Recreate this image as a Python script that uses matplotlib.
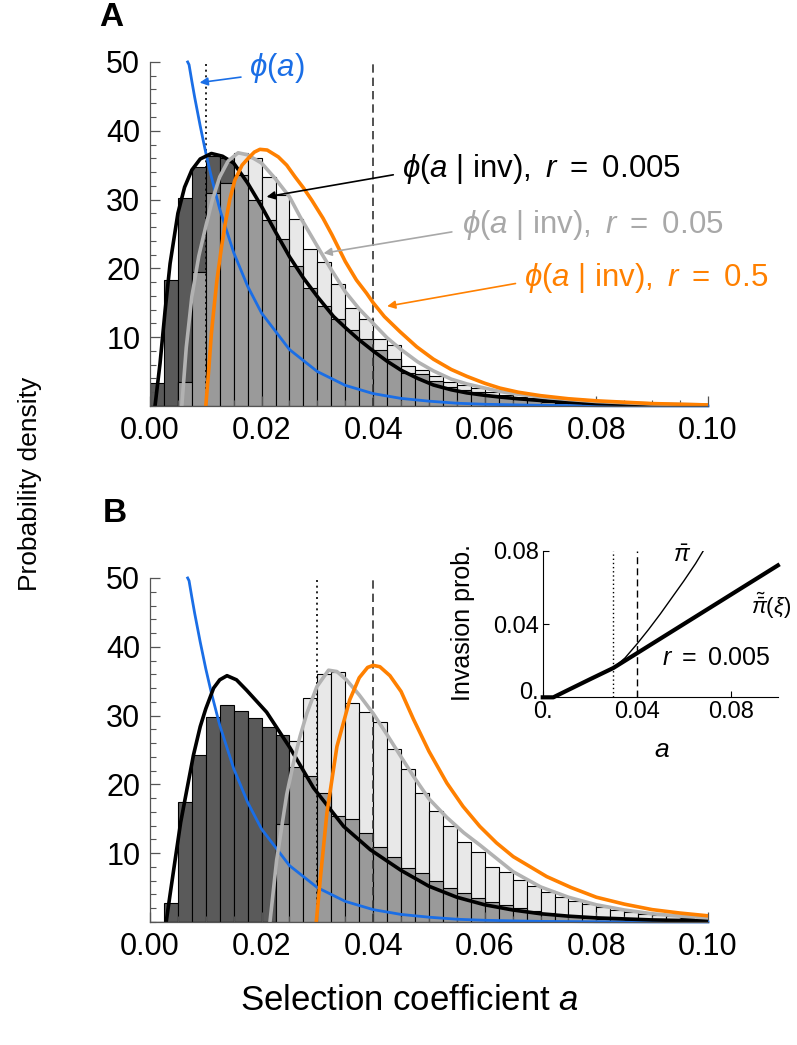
import numpy as np
import matplotlib
matplotlib.use('Agg')
import matplotlib.pyplot as plt
from matplotlib.ticker import MultipleLocator, FormatStrFormatter
from matplotlib.transforms import ScaledTranslation

plt.rcParams['font.family'] = ['Liberation Sans', 'DejaVu Sans']
plt.rcParams['mathtext.fontset'] = 'custom'
plt.rcParams['mathtext.rm'] = 'Liberation Sans'
plt.rcParams['mathtext.it'] = 'Liberation Sans:italic'
plt.rcParams['mathtext.bf'] = 'Liberation Sans:bold'
plt.rcParams['mathtext.fallback'] = 'stixsans'

# histogram bins (0 .. 0.1, 40 bins)
bin_width = 0.0025
n_bins = 40

# panel A: simulated densities (dark = r 0.005, light = r 0.05)
hist_a_dark = [3.4, 18.3, 30.3, 34.8, 36.4, 36.1, 33.5, 30.0, 27.0, 24.3,
               20.3, 17.1, 14.5, 12.7, 11.0, 9.8, 8.1, 6.9, 4.8, 4.7,
               3.6, 2.8, 2.3, 2.0, 1.6, 1.3, 1.0, 0.8, 0.6, 0.5,
               0.4, 0.3, 0.25, 0.2, 0.15, 0.1, 0.1, 0.05, 0.05, 0.0]
hist_a_light = [0.0, 0.0, 3.5, 19.5, 30.9, 32.4, 36.8, 36.1, 33.3, 30.7,
                27.2, 22.8, 20.9, 17.8, 14.3, 12.7, 9.7, 8.9, 5.8, 5.2,
                4.3, 3.5, 3.0, 2.6, 2.0, 1.6, 1.3, 1.1, 0.9, 0.7,
                0.6, 0.5, 0.4, 0.3, 0.25, 0.2, 0.15, 0.1, 0.1, 0.05]

# panel B
hist_b_dark = [0.0, 2.8, 17.4, 24.3, 29.8, 31.6, 30.7, 29.7, 28.3, 27.2,
               22.6, 21.2, 18.7, 15.4, 14.9, 12.9, 10.9, 9.5, 7.8, 7.1,
               6.0, 5.0, 4.2, 3.5, 2.9, 2.4, 2.0, 1.6, 1.3, 1.0,
               0.8, 0.6, 0.5, 0.4, 0.3, 0.2, 0.15, 0.1, 0.1, 0.05]
hist_b_light = [0.0, 0.0, 0.0, 0.0, 0.0, 0.0, 0.0, 0.0, 0.0, 14.3,
                26.3, 32.5, 36.1, 36.4, 31.9, 30.5, 29.0, 25.1, 22.2, 18.7,
                16.1, 14.0, 11.6, 10.2, 8.0, 7.2, 6.1, 5.2, 4.4, 3.7,
                3.1, 2.6, 2.2, 1.8, 1.5, 1.2, 1.0, 0.8, 0.6, 0.5]

# phi(a), same in both panels
phi_x = [0.00675, 0.007, 0.0075, 0.008, 0.009, 0.01, 0.011, 0.0125, 0.015, 0.0175,
         0.02, 0.025, 0.03, 0.035, 0.04, 0.045, 0.05, 0.055, 0.06, 0.07, 0.08, 0.09, 0.1]
phi_y = [50.0, 49.6, 47.2, 44.9, 40.7, 36.8, 33.3, 28.6, 22.3, 17.4,
         13.5, 8.2, 5.0, 3.0, 1.8, 1.1, 0.7, 0.4, 0.25, 0.09, 0.03, 0.01, 0.0]

# panel A curves
a_black_x = [0.0009, 0.0018, 0.0027, 0.0036, 0.005, 0.0062, 0.0075, 0.009, 0.011, 0.013,
             0.015, 0.0175, 0.02, 0.0225, 0.025, 0.0275, 0.03, 0.0329, 0.035, 0.0375,
             0.04, 0.0425, 0.045, 0.048, 0.0508, 0.054, 0.0568, 0.06, 0.0627, 0.066,
             0.07, 0.075, 0.08, 0.09, 0.1]
a_black_y = [0.0, 6.2, 13.8, 20.7, 28.0, 31.8, 34.3, 35.9, 36.7, 36.3,
             35.3, 32.4, 29.0, 25.3, 21.7, 18.6, 15.9, 13.0, 11.4, 9.6,
             8.0, 6.5, 5.2, 4.0, 3.05, 2.35, 1.9, 1.55, 1.3, 1.05,
             0.8, 0.55, 0.35, 0.15, 0.05]
a_gray_x = [0.0057, 0.0065, 0.0075, 0.00875, 0.01, 0.0112, 0.0125, 0.014, 0.0158, 0.0175,
            0.02, 0.0225, 0.025, 0.0269, 0.03, 0.0325, 0.035, 0.0375, 0.04, 0.0425,
            0.045, 0.048, 0.0508, 0.054, 0.0568, 0.06, 0.0627, 0.066, 0.07, 0.075,
            0.08, 0.09, 0.1]
a_gray_y = [0.0, 8.5, 15.9, 21.8, 26.1, 30.0, 33.3, 35.6, 36.8, 36.5,
            35.3, 33.0, 30.4, 27.5, 23.2, 19.8, 16.6, 14.1, 12.0, 9.9,
            8.2, 6.4, 5.1, 3.9, 3.2, 2.6, 2.1, 1.7, 1.3, 0.95,
            0.65, 0.3, 0.15]
a_orange_x = [0.01, 0.0105, 0.011, 0.0115, 0.012, 0.0128, 0.0135, 0.0143, 0.0152, 0.0165,
              0.0176, 0.0187, 0.0197, 0.021, 0.023, 0.0245, 0.026, 0.0275, 0.029, 0.031,
              0.0326, 0.035, 0.037, 0.0388, 0.04, 0.042, 0.0448, 0.0478, 0.0508, 0.054,
              0.0568, 0.06, 0.0627, 0.066, 0.07, 0.075, 0.08, 0.09, 0.1]
a_orange_y = [0.0, 5.0, 10.5, 14.5, 18.3, 23.0, 26.6, 30.0, 32.8, 35.0,
              36.0, 36.9, 37.3, 37.2, 36.2, 35.0, 33.3, 31.7, 29.9, 27.3,
              24.9, 21.0, 18.3, 16.4, 15.0, 13.0, 10.8, 8.6, 6.8, 5.3,
              4.3, 3.3, 2.6, 2.0, 1.5, 1.05, 0.75, 0.35, 0.15]

# panel B curves
b_black_x = [0.0029, 0.0036, 0.0045, 0.0055, 0.0066, 0.0078, 0.009, 0.01, 0.0114, 0.0125,
             0.0138, 0.0155, 0.0173, 0.0209, 0.0251, 0.0293, 0.0347, 0.0395, 0.045, 0.05,
             0.055, 0.06, 0.065, 0.07, 0.075, 0.08, 0.09, 0.1]
b_black_y = [0.0, 4.0, 9.0, 14.5, 19.2, 24.3, 28.4, 31.0, 34.0, 35.2,
             35.8, 35.2, 33.7, 30.5, 25.3, 19.5, 13.9, 10.5, 7.5, 5.2,
             3.6, 2.5, 1.75, 1.2, 0.85, 0.6, 0.3, 0.15]
b_gray_x = [0.0215, 0.0227, 0.0245, 0.0257, 0.0269, 0.0281, 0.0299, 0.032, 0.0335, 0.0352,
            0.0375, 0.04, 0.0425, 0.045, 0.0472, 0.05, 0.0532, 0.0562, 0.0591, 0.0651,
            0.07, 0.075, 0.08, 0.085, 0.09, 0.095, 0.1]
b_gray_y = [0.0, 9.0, 18.5, 23.1, 27.0, 30.3, 34.2, 36.6, 36.4, 35.2,
            33.0, 30.3, 27.2, 24.0, 21.2, 17.9, 15.2, 13.0, 11.2, 7.3,
            5.1, 3.6, 2.5, 1.75, 1.2, 0.85, 0.6]
b_orange_x = [0.0298, 0.0305, 0.0317, 0.0335, 0.0358, 0.0375, 0.039, 0.04, 0.0412, 0.043,
              0.045, 0.0472, 0.05, 0.0532, 0.0561, 0.0591, 0.0621, 0.0651, 0.0711, 0.0755,
              0.08, 0.085, 0.09, 0.095, 0.1]
b_orange_y = [0.0, 6.1, 15.8, 25.5, 32.3, 35.5, 37.0, 37.3, 37.1, 35.8,
              33.5, 29.5, 24.8, 20.2, 16.8, 13.9, 11.5, 9.5, 6.6, 5.0,
              3.6, 2.6, 1.8, 1.3, 0.9]

# inset: invasion probabilities (r = 0.005)
inv_thick_x = [0.0, 0.0045, 0.01, 0.02, 0.03, 0.04, 0.06, 0.08, 0.1]
inv_thick_y = [0.0, 0.0, 0.0035, 0.0098, 0.016, 0.024, 0.040, 0.056, 0.072]
inv_thin_x = [0.03, 0.035, 0.04, 0.045, 0.05, 0.055, 0.06, 0.065, 0.0683]
inv_thin_y = [0.016, 0.0215, 0.029, 0.037, 0.0455, 0.0545, 0.0635, 0.073, 0.08]

BLUE = '#1a6ee6'
ORANGE = '#ff8000'
GRAY = '#b2b2b2'
DARK = '#5a5a5a'
MID = '#9a9a9a'
LIGHT = '#e8e8e8'

fig = plt.figure(figsize=(7.97, 10.45), dpi=100)
ax_a = fig.add_axes([0.1882, 0.6115, 0.7001, 0.3292])
ax_b = fig.add_axes([0.1882, 0.1177, 0.7001, 0.3292])


def draw_hist(ax, dark, light):
    lefts = np.arange(n_bins) * bin_width
    dark = np.array(dark)
    light = np.array(light)
    kw = dict(width=bin_width, align='edge', edgecolor='black', linewidth=0.8)
    ax.bar(lefts, dark, color=DARK, **kw)
    ax.bar(lefts, light, color=LIGHT, **kw)
    ax.bar(lefts, np.minimum(dark, light), color=MID, **kw)


def style_axes(ax):
    ax.set_xlim(0, 0.1)
    ax.set_ylim(0, 50)
    for s in ['top', 'right']:
        ax.spines[s].set_visible(False)
    for s in ['left', 'bottom']:
        ax.spines[s].set_color('#555555')
        ax.spines[s].set_linewidth(0.9)
    ax.xaxis.set_major_locator(MultipleLocator(0.02))
    ax.xaxis.set_minor_locator(MultipleLocator(0.005))
    ax.xaxis.set_major_formatter(FormatStrFormatter('%.2f'))
    ax.set_yticks([10, 20, 30, 40, 50])
    ax.yaxis.set_minor_locator(MultipleLocator(2))
    ax.tick_params(which='both', direction='in', color='#555555', labelsize=22)
    ax.tick_params(which='major', length=7, width=0.9, pad=7)
    ax.tick_params(which='minor', length=4, width=0.8)


for ax, dark, light in [(ax_a, hist_a_dark, hist_a_light), (ax_b, hist_b_dark, hist_b_light)]:
    draw_hist(ax, dark, light)
    style_axes(ax)

# panel A lines
ax_a.plot([0.01, 0.01], [0, 50], color='black', lw=1.2, ls=(0, (1.2, 2.2)))
ax_a.plot([0.04, 0.04], [0, 50], color='#333333', lw=1.2, ls=(0, (5, 3)))
ax_a.plot(phi_x, phi_y, color=BLUE, lw=2.0, clip_on=False)
ax_a.plot(a_black_x, a_black_y, color='black', lw=2.6)
ax_a.plot(a_gray_x, a_gray_y, color=GRAY, lw=2.6)
ax_a.plot(a_orange_x, a_orange_y, color=ORANGE, lw=2.6)

# panel B lines
ax_b.plot([0.03, 0.03], [0, 50], color='black', lw=1.2, ls=(0, (1.2, 2.2)))
ax_b.plot([0.04, 0.04], [0, 50], color='#333333', lw=1.2, ls=(0, (5, 3)))
ax_b.plot(phi_x, phi_y, color=BLUE, lw=2.0, clip_on=False)
ax_b.plot(b_black_x, b_black_y, color='black', lw=2.6)
ax_b.plot(b_gray_x, b_gray_y, color=GRAY, lw=2.6)
ax_b.plot(b_orange_x, b_orange_y, color=ORANGE, lw=2.6)

# labels with arrows (panel A)
inv = r'(a\ |\ \mathrm{inv}),\ r\ =\ '
labels = [
    (r'$\phi(a)$', BLUE, (0.0177, 49.1), (0.0163, 47.8), (0.0089, 47.0)),
    (r'$\phi' + inv + r'0.005$', 'black', (0.0452, 34.4), (0.0436, 33.6), (0.0209, 30.4)),
    (r'$\phi' + inv + r'0.05$', '#a8a8a8', (0.0559, 26.3), (0.0541, 25.3), (0.0311, 22.2)),
    (r'$\phi' + inv + r'0.5$', ORANGE, (0.067, 18.6), (0.0655, 17.8), (0.0425, 14.5)),
]
for txt, col, tpos, tail, head in labels:
    ax_a.text(tpos[0], tpos[1], txt, color=col, fontsize=22.5, ha='left', va='center', clip_on=False)
    ax_a.annotate('', xy=head, xytext=tail,
                  arrowprops=dict(arrowstyle='-|>', color=col, lw=1.2, mutation_scale=12,
                                  shrinkA=0, shrinkB=0))

# inset
ax_in = fig.add_axes([0.681, 0.3327, 0.295, 0.1403])
ax_in.set_xlim(0, 0.1)
ax_in.set_ylim(0, 0.08)
for s in ['top', 'right']:
    ax_in.spines[s].set_visible(False)
for s in ['left', 'bottom']:
    ax_in.spines[s].set_linewidth(0.8)
ax_in.set_xticks([0, 0.04, 0.08])
ax_in.set_xticklabels(['0.', '0.04', '0.08'])
ax_in.set_yticks([0, 0.04, 0.08])
ax_in.set_yticklabels(['0.', '0.04', '0.08'])
ax_in.tick_params(direction='in', length=4, width=0.8, labelsize=17, pad=3)
zero_lab = ax_in.yaxis.get_major_ticks()[0].label1
zero_lab.set_transform(zero_lab.get_transform() + ScaledTranslation(0, 7 / 100, fig.dpi_scale_trans))
ax_in.plot([0.03, 0.03], [0, 0.08], color='black', lw=1.0, ls=(0, (1, 2)))
ax_in.plot([0.04, 0.04], [0, 0.08], color='black', lw=1.0, ls=(0, (5, 3)))
ax_in.plot(inv_thin_x, inv_thin_y, color='black', lw=1.0)
ax_in.plot(inv_thick_x, inv_thick_y, color='black', lw=3.0, clip_on=False)
ax_in.text(0.0593, 0.077, r'$\bar{\pi}$', fontsize=17, ha='center', va='center')
ax_in.text(0.0885, 0.050, r'$\tilde{\bar{\pi}}(\xi)$', fontsize=16, ha='left', va='center', clip_on=False)
ax_in.text(0.0508, 0.0214, r'$r\ =\ 0.005$', fontsize=18, ha='left', va='center')
fig.text(0.581, 0.404, 'Invasion prob.', rotation=90, fontsize=18, ha='center', va='center')
fig.text(0.831, 0.282, r'$a$', fontsize=19, ha='center', va='center')

# panel letters and shared axis labels
fig.text(0.139, 0.983, 'A', fontsize=24, fontweight='bold', ha='center', va='center')
fig.text(0.144, 0.509, 'B', fontsize=24, fontweight='bold', ha='center', va='center')
fig.text(0.038, 0.537, 'Probability density', rotation=90, fontsize=19, ha='center', va='center')
fig.text(0.514, 0.043, r'Selection coefficient $a$', fontsize=25, ha='center', va='center')

fig.savefig('out.png', dpi=100)
